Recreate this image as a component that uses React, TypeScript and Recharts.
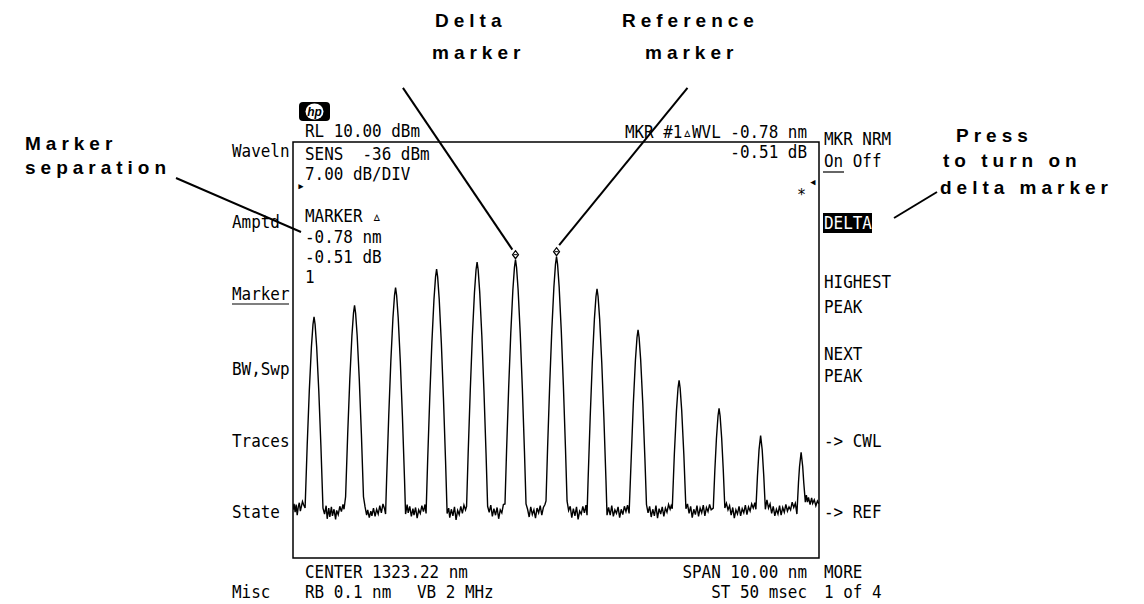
import React from 'react';
import { LineChart, Line, XAxis, YAxis, ReferenceArea, ReferenceLine, ReferenceDot } from 'recharts';

// Axis setup: CENTER 1323.22 nm, SPAN 10.00 nm, RL 10 dBm, 7 dB/DIV
const xDomain: [number, number] = [1318.22, 1328.22];
const yDomain: [number, number] = [-60, 10];

// Peak tops (nm, dBm)
const peakCentersNm = [1318.62, 1319.39, 1320.17, 1320.95, 1321.72, 1322.45, 1323.23, 1324.0, 1324.78, 1325.56, 1326.32, 1327.11, 1327.88];
const peakLevelsDbm = [-19.4, -17.5, -14.5, -11.4, -10.2, -9.8, -9.3, -14.7, -21.6, -30.1, -34.8, -39.4, -42.2];
const deltaMarkerIndex = 5;
const referenceMarkerIndex = 6;

// Trace points [wavelength nm, power dBm]
const trace: [number, number][] = [
  [1318.22,-51.9],[1318.24,-50.9],[1318.26,-52.3],[1318.28,-51.0],[1318.30,-52.8],[1318.32,-51.4],[1318.34,-50.7],[1318.36,-52.1],[1318.38,-51.3],[1318.40,-50.5],[1318.42,-51.0],
  [1318.45,-51.6],[1318.49,-41.0],[1318.53,-31.8],[1318.57,-24.5],[1318.60,-20.7],[1318.62,-19.4],[1318.64,-20.7],[1318.67,-24.5],[1318.71,-31.8],[1318.75,-41.0],[1318.79,-51.6],
  [1318.82,-52.6],[1318.85,-51.2],[1318.87,-53.4],[1318.90,-51.6],[1318.92,-53.1],[1318.95,-51.4],[1318.97,-52.9],[1319.00,-51.8],[1319.03,-53.5],[1319.05,-52.0],[1319.08,-52.7],[1319.11,-51.3],[1319.14,-52.2],[1319.17,-51.0],[1319.19,-51.8],
  [1319.22,-49.7],[1319.26,-39.1],[1319.30,-29.9],[1319.34,-22.6],[1319.37,-18.8],[1319.39,-17.5],[1319.41,-18.8],[1319.44,-22.6],[1319.48,-29.9],[1319.52,-39.1],[1319.56,-49.7],
  [1319.59,-51.4],[1319.62,-52.8],[1319.64,-51.9],[1319.67,-53.2],[1319.70,-52.1],[1319.72,-52.9],[1319.75,-51.6],[1319.78,-53.0],[1319.81,-51.8],[1319.84,-52.6],[1319.87,-51.2],[1319.90,-52.4],[1319.93,-50.9],[1319.96,-51.7],
  [1319.98,-52.6],[1320.00,-46.7],[1320.04,-36.1],[1320.08,-26.9],[1320.12,-19.6],[1320.15,-15.8],[1320.17,-14.5],[1320.19,-15.8],[1320.22,-19.6],[1320.26,-26.9],[1320.30,-36.1],[1320.34,-46.7],[1320.36,-52.6],
  [1320.39,-51.0],[1320.41,-52.4],[1320.44,-51.3],[1320.47,-53.0],[1320.50,-51.7],[1320.52,-52.8],[1320.55,-51.5],[1320.58,-53.3],[1320.61,-51.9],[1320.64,-52.5],[1320.67,-51.2],[1320.70,-52.2],[1320.73,-51.0],
  [1320.75,-52.5],[1320.78,-43.6],[1320.82,-33.0],[1320.86,-23.8],[1320.90,-16.5],[1320.93,-12.7],[1320.95,-11.4],[1320.97,-12.7],[1321.00,-16.5],[1321.04,-23.8],[1321.08,-33.0],[1321.12,-43.6],[1321.15,-52.5],
  [1321.18,-51.6],[1321.20,-53.2],[1321.23,-51.8],[1321.26,-52.9],[1321.29,-51.4],[1321.32,-53.6],[1321.35,-52.0],[1321.38,-52.7],[1321.41,-51.3],[1321.44,-52.5],[1321.47,-51.1],[1321.50,-51.9],
  [1321.52,-51.3],[1321.55,-42.4],[1321.59,-31.8],[1321.63,-22.6],[1321.67,-15.3],[1321.70,-11.5],[1321.72,-10.2],[1321.74,-11.5],[1321.77,-15.3],[1321.81,-22.6],[1321.85,-31.8],[1321.89,-42.4],[1321.92,-51.3],
  [1321.95,-52.3],[1321.98,-51.1],[1322.01,-53.0],[1322.04,-51.7],[1322.07,-52.8],[1322.10,-51.5],[1322.13,-53.4],[1322.16,-51.9],[1322.19,-52.4],[1322.22,-51.0],
  [1322.25,-50.9],[1322.28,-42.0],[1322.32,-31.4],[1322.36,-22.2],[1322.40,-14.9],[1322.43,-11.1],[1322.45,-9.8],[1322.47,-11.1],[1322.50,-14.9],[1322.54,-22.2],[1322.58,-31.4],[1322.62,-42.0],[1322.65,-50.9],
  [1322.68,-51.8],[1322.71,-53.1],[1322.74,-51.4],[1322.77,-52.7],[1322.80,-51.9],[1322.83,-53.3],[1322.86,-51.6],[1322.89,-52.4],[1322.92,-51.2],[1322.95,-52.8],[1322.98,-51.5],[1323.01,-51.0],
  [1323.03,-50.4],[1323.06,-41.5],[1323.10,-30.9],[1323.14,-21.7],[1323.18,-14.4],[1323.21,-10.6],[1323.23,-9.3],[1323.25,-10.6],[1323.28,-14.4],[1323.32,-21.7],[1323.36,-30.9],[1323.40,-41.5],[1323.43,-50.4],
  [1323.46,-52.0],[1323.49,-51.3],[1323.52,-53.2],[1323.55,-51.7],[1323.58,-52.9],[1323.61,-51.4],[1323.64,-53.5],[1323.67,-52.1],[1323.70,-52.6],[1323.73,-51.3],[1323.76,-52.4],[1323.79,-51.1],
  [1323.81,-52.8],[1323.83,-46.9],[1323.87,-36.3],[1323.91,-27.1],[1323.95,-19.8],[1323.98,-16.0],[1324.00,-14.7],[1324.02,-16.0],[1324.05,-19.8],[1324.09,-27.1],[1324.13,-36.3],[1324.17,-46.9],[1324.19,-52.8],
  [1324.22,-51.5],[1324.25,-52.8],[1324.28,-51.2],[1324.31,-53.0],[1324.34,-51.9],[1324.37,-52.5],[1324.40,-51.4],[1324.43,-53.2],[1324.46,-51.8],[1324.49,-52.7],[1324.52,-51.3],[1324.55,-52.2],[1324.58,-51.1],
  [1324.61,-52.5],[1324.65,-43.2],[1324.69,-34.0],[1324.73,-26.7],[1324.76,-22.9],[1324.78,-21.6],[1324.80,-22.9],[1324.83,-26.7],[1324.87,-34.0],[1324.91,-43.2],[1324.94,-51.0],
  [1324.97,-52.4],[1325.00,-51.3],[1325.03,-53.1],[1325.06,-51.8],[1325.09,-52.9],[1325.12,-51.2],[1325.15,-53.3],[1325.18,-51.7],[1325.21,-52.6],[1325.24,-51.4],[1325.27,-53.0],[1325.30,-51.6],[1325.33,-52.3],[1325.36,-51.0],[1325.39,-51.8],[1325.41,-51.2],
  [1325.43,-51.7],[1325.47,-42.5],[1325.51,-35.2],[1325.54,-31.4],[1325.56,-30.1],[1325.58,-31.4],[1325.61,-35.2],[1325.65,-42.5],[1325.69,-51.7],
  [1325.72,-50.9],[1325.75,-52.5],[1325.78,-51.3],[1325.81,-53.2],[1325.84,-51.8],[1325.87,-52.7],[1325.90,-51.2],[1325.93,-53.0],[1325.96,-51.6],[1325.99,-52.4],[1326.02,-51.1],[1326.05,-52.9],[1326.08,-51.5],[1326.11,-52.2],[1326.14,-51.0],[1326.17,-51.9],
  [1326.21,-51.6],[1326.24,-45.2],[1326.27,-39.9],[1326.30,-36.1],[1326.32,-34.8],[1326.34,-36.1],[1326.37,-39.9],[1326.40,-45.2],[1326.43,-51.6],
  [1326.46,-50.8],[1326.49,-51.9],[1326.52,-51.2],[1326.55,-52.8],[1326.58,-51.5],[1326.61,-53.3],[1326.64,-51.9],[1326.67,-52.6],[1326.70,-51.3],[1326.73,-52.9],[1326.76,-51.7],[1326.79,-52.4],[1326.82,-51.1],[1326.85,-52.7],[1326.88,-51.4],[1326.91,-52.1],[1326.94,-50.9],[1326.97,-51.6],[1327.00,-50.7],
  [1327.02,-51.8],[1327.05,-46.2],[1327.08,-41.8],[1327.11,-39.4],[1327.14,-41.8],[1327.17,-46.2],[1327.20,-51.8],
  [1327.23,-50.2],[1327.26,-51.6],[1327.29,-50.9],[1327.32,-52.5],[1327.35,-51.3],[1327.38,-52.9],[1327.41,-51.8],[1327.44,-52.6],[1327.47,-51.2],[1327.50,-52.8],[1327.53,-51.5],[1327.56,-52.3],[1327.59,-51.0],[1327.62,-52.1],[1327.65,-51.4],[1327.68,-51.9],[1327.71,-50.6],[1327.74,-51.5],[1327.77,-50.8],
  [1327.80,-52.6],[1327.83,-47.3],[1327.85,-44.6],[1327.88,-42.2],[1327.91,-44.6],[1327.93,-47.3],[1327.96,-50.6],
  [1327.98,-49.4],[1328.00,-50.6],[1328.02,-49.8],[1328.05,-51.0],[1328.08,-49.9],[1328.10,-50.8],[1328.13,-50.2],[1328.16,-51.2],[1328.19,-50.4],[1328.22,-50.9],
];

// Screen text
const leftSoftkeys = ['Waveln', 'Amptd', 'Marker', 'BW,Swp', 'Traces', 'State', 'Misc'];
const leftSoftkeyY = [157, 228, 300, 375, 447, 518, 598];
const rightSoftkeys = ['MKR NRM', 'On Off', 'DELTA', 'HIGHEST', 'PEAK', 'NEXT', 'PEAK', '-> CWL', '-> REF', 'MORE', '1 of 4'];
const rightSoftkeyY = [145, 167, 229, 288, 313, 360, 382, 447, 518, 578, 598];
const infoLines = ['RL 10.00 dBm', 'SENS  -36 dBm', '7.00 dB/DIV', 'MARKER \u25B5', '-0.78 nm', '-0.51 dB', '1'];
const infoY = [137, 160, 180, 222, 243, 263, 283];

const data = trace.map(([nm, dbm]) => ({ nm, dbm }));

const SCREEN_FONT = '"DejaVu Sans Mono", monospace';
const ANNOT_FONT = '"Liberation Sans", Arial, sans-serif';
const SX = 0.885;

function T({ x, y, children, anchor = 'start', fill = '#000' }: any) {
  return (
    <text x={x / SX} y={y} transform={`scale(${SX},1)`} textAnchor={anchor} fontSize={18} fontFamily={SCREEN_FONT} fill={fill} style={{ whiteSpace: 'pre' }}>
      {children}
    </text>
  );
}

function A({ x, y, children }: any) {
  return (
    <text x={x} y={y} fontSize={19} fontWeight={700} letterSpacing={5} fontFamily={ANNOT_FONT} fill="#000">
      {children}
    </text>
  );
}

const MarkerShape = (props: any) => {
  const { cx, cy } = props;
  if (cx == null || cy == null) return null;
  const b = cy - 1;
  return (
    <g>
      <path d={`M${cx},${b - 8} L${cx + 3},${b - 4} L${cx},${b} L${cx - 3},${b - 4} Z`} fill="#fff" stroke="#000" strokeWidth={1.2} />
      <line x1={cx - 2} x2={cx + 2} y1={b - 4} y2={b - 4} stroke="#000" strokeWidth={1} />
    </g>
  );
};

export default function App() {
  const dm = { x: peakCentersNm[deltaMarkerIndex], y: peakLevelsDbm[deltaMarkerIndex] };
  const rm = { x: peakCentersNm[referenceMarkerIndex], y: peakLevelsDbm[referenceMarkerIndex] };
  return (
    <div style={{ position: 'absolute', left: 0, top: 0, width: 1144, height: 604, background: '#fff', overflow: 'hidden' }}>
      <LineChart width={1144} height={604} data={data} margin={{ top: 142, left: 293, right: 325, bottom: 46 }}>
        <XAxis type="number" dataKey="nm" domain={xDomain} hide allowDataOverflow />
        <YAxis type="number" domain={yDomain} hide allowDataOverflow />
        <ReferenceArea x1={xDomain[0]} x2={xDomain[1]} y1={yDomain[0]} y2={yDomain[1]} fill="none" stroke="#000" strokeWidth={1.5} fillOpacity={0} ifOverflow="visible" />
        <Line dataKey="dbm" type="linear" dot={false} stroke="#000" strokeWidth={1.4} isAnimationActive={false} />
        <ReferenceDot x={dm.x} y={dm.y} r={3} shape={MarkerShape} ifOverflow="visible" />
        <ReferenceDot x={rm.x} y={rm.y} r={3} shape={MarkerShape} ifOverflow="visible" />
        <ReferenceLine segment={[{ x: 1320.31, y: 19.1 }, { x: dm.x - 0.06, y: dm.y + 1.7 }]} stroke="#000" strokeWidth={2} ifOverflow="visible" />
        <ReferenceLine segment={[{ x: 1325.72, y: 19.1 }, { x: rm.x + 0.05, y: rm.y + 1.95 }]} stroke="#000" strokeWidth={2} ifOverflow="visible" />
      </LineChart>
      <svg width={1144} height={604} style={{ position: 'absolute', left: 0, top: 0, pointerEvents: 'none' }}>
        {/* hp logo */}
        <rect x={299} y={102} width={31} height={19} rx={4} fill="#000" />
        <ellipse cx={314.5} cy={111.5} rx={9} ry={8} fill="#fff" />
        <text x={314.5} y={116} textAnchor="middle" fontSize={12} fontStyle="italic" fontWeight={700} fontFamily={ANNOT_FONT} fill="#000">hp</text>

        {infoLines.map((s, i) => <T key={'i' + i} x={305} y={infoY[i]}>{s}</T>)}
        <T x={807} y={138} anchor="end">{'MKR #1\u25B5WVL -0.78 nm'}</T>
        <T x={807} y={158} anchor="end">-0.51 dB</T>
        <T x={305} y={578}>CENTER 1323.22 nm</T>
        <T x={807} y={578} anchor="end">SPAN 10.00 nm</T>
        <T x={305} y={598}>RB 0.1 nm</T>
        <T x={417} y={598}>VB 2 MHz</T>
        <T x={807} y={598} anchor="end">ST 50 msec</T>

        {leftSoftkeys.map((s, i) => <T key={'l' + i} x={232} y={leftSoftkeyY[i]}>{s}</T>)}
        <line x1={232} x2={289} y1={304} y2={304} stroke="#000" strokeWidth={1.2} />

        <rect x={823} y={213} width={49} height={20} fill="#000" />
        {rightSoftkeys.map((s, i) => <T key={'r' + i} x={824} y={rightSoftkeyY[i]} fill={s === 'DELTA' ? '#fff' : '#000'}>{s}</T>)}
        <line x1={823} x2={844} y1={172} y2={172} stroke="#000" strokeWidth={1.2} />

        <text x={297} y={190} fontSize={13} fontFamily={SCREEN_FONT}>{'\u25B8'}</text>
        <text x={809} y={186} fontSize={13} fontFamily={SCREEN_FONT}>{'\u25C2'}</text>
        <text x={797} y={200} fontSize={15} fontFamily={SCREEN_FONT}>*</text>

        {/* callouts */}
        <A x={435} y={27}>Delta</A>
        <A x={432} y={59}>marker</A>
        <A x={622} y={27}>Reference</A>
        <A x={645} y={59}>marker</A>
        <A x={25} y={150}>Marker</A>
        <A x={25} y={174}>separation</A>
        <A x={956} y={142}>Press</A>
        <A x={943} y={167}>to turn on</A>
        <A x={940} y={194}>delta marker</A>
        <line x1={176} y1={178} x2={301} y2={232} stroke="#000" strokeWidth={2} />
        <line x1={894} y1={218} x2={937} y2={192} stroke="#000" strokeWidth={2} />
      </svg>
    </div>
  );
}
